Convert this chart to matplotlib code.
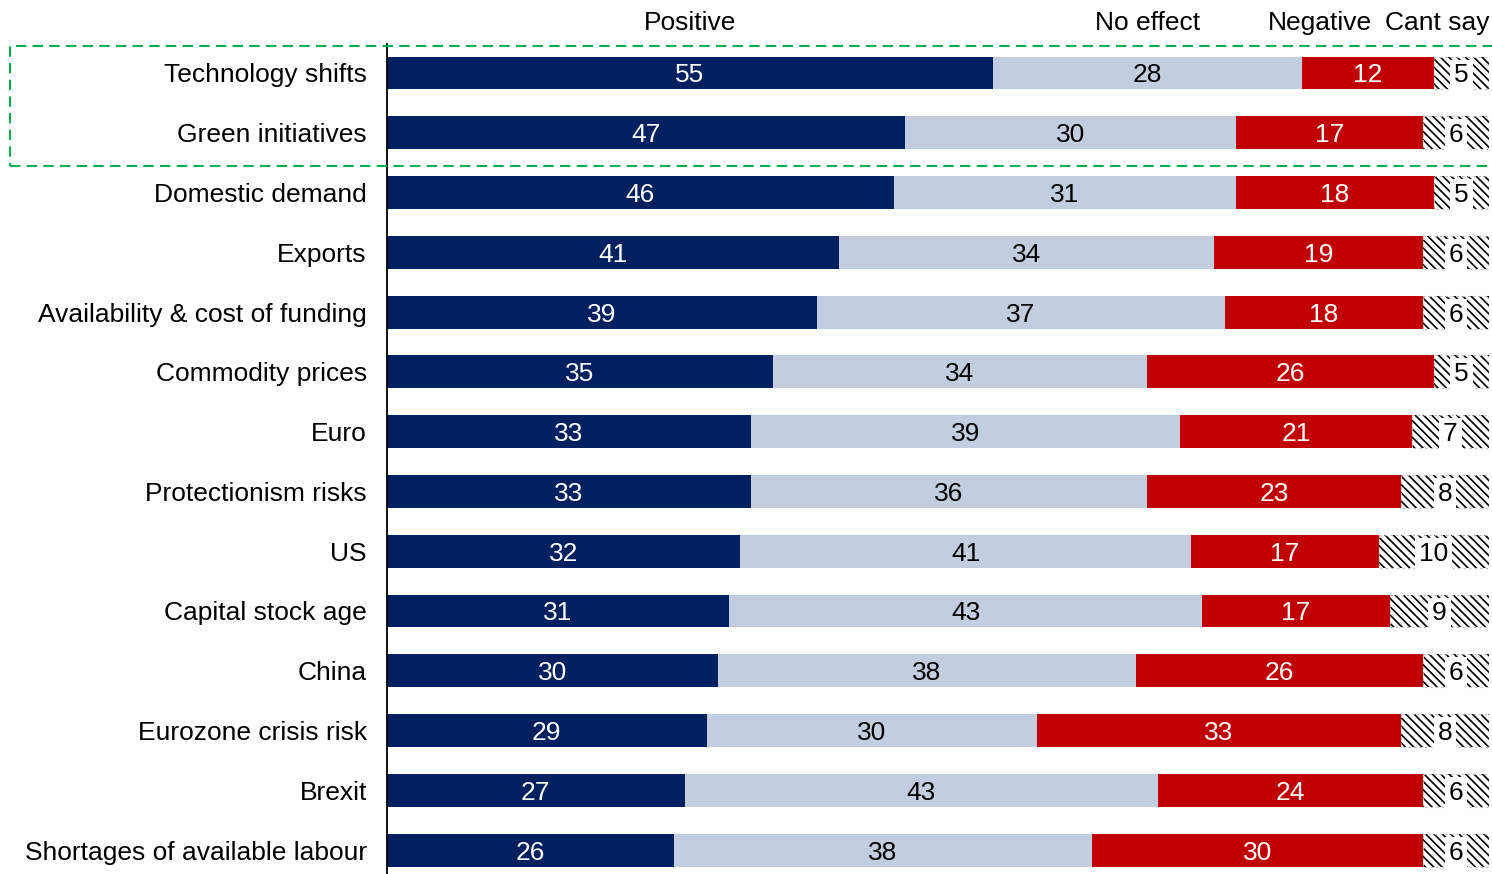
import matplotlib.pyplot as plt
from matplotlib.patches import Rectangle

plt.rcParams['font.family'] = ['Liberation Sans', 'DejaVu Sans']
plt.rcParams['hatch.linewidth'] = 1.2

categories = ['Technology shifts', 'Green initiatives', 'Domestic demand', 'Exports',
              'Availability & cost of funding', 'Commodity prices', 'Euro',
              'Protectionism risks', 'US', 'Capital stock age', 'China',
              'Eurozone crisis risk', 'Brexit', 'Shortages of available labour']
positive = [55, 47, 46, 41, 39, 35, 33, 33, 32, 31, 30, 29, 27, 26]
no_effect = [28, 30, 31, 34, 37, 34, 39, 36, 41, 43, 38, 30, 43, 38]
negative = [12, 17, 18, 19, 18, 26, 21, 23, 17, 17, 26, 33, 24, 30]
cant_say = [5, 6, 5, 6, 6, 5, 7, 8, 10, 9, 6, 8, 6, 6]
headers = ['Positive', 'No effect', 'Negative', 'Cant say']

fig = plt.figure(figsize=(14.92, 8.74), dpi=100)
ax = fig.add_axes([387 / 1492, 0, 1102 / 1492, 830 / 874])
y = list(range(len(categories)))
h = 0.55
fs = 19

left = [0] * len(y)
ax.barh(y, positive, left=left, height=h, color='#002060')
for i, v in enumerate(positive):
    ax.text(left[i] + v / 2, i, str(v), ha='center', va='center_baseline', color='white', fontsize=fs)
    left[i] += v
ax.barh(y, no_effect, left=left, height=h, color='#C3CDE0')
for i, v in enumerate(no_effect):
    ax.text(left[i] + v / 2, i, str(v), ha='center', va='center_baseline', color='black', fontsize=fs)
    left[i] += v
ax.barh(y, negative, left=left, height=h, color='#C00000')
for i, v in enumerate(negative):
    ax.text(left[i] + v / 2, i, str(v), ha='center', va='center_baseline', color='white', fontsize=fs)
    left[i] += v
ax.barh(y, cant_say, left=left, height=h, color='white', edgecolor='black',
        hatch='\\\\\\\\', linewidth=0)
ax.barh(y, cant_say, left=left, height=h, fill=False, edgecolor='#BBBBBB',
        linestyle=(0, (2, 3)), linewidth=0.8)
for i, v in enumerate(cant_say):
    ax.text(left[i] + v / 2, i, str(v), ha='center', va='center_baseline', color='black', fontsize=fs,
            bbox=dict(boxstyle='square,pad=0.15', fc='white', ec='none'))

# column headers above the first row
for x, t in zip([27.5, 69, 84.7, 95.3], headers):
    ax.text(x, -0.87, t, ha='center', va='center_baseline', fontsize=fs, clip_on=False)

ax.set_xlim(0, 100)
ax.set_ylim(13.4, -0.485)
ax.set_yticks(y)
ax.set_yticklabels(categories, fontsize=fs, va='center_baseline')
ax.tick_params(axis='y', length=0, pad=14.5)
ax.set_xticks([])
for s in ['top', 'right', 'bottom']:
    ax.spines[s].set_visible(False)
ax.spines['left'].set_linewidth(1.3)

# dashed highlight around the first two rows
fig.patches.append(Rectangle((10 / 1492, 1 - 166 / 874), 1.1, 120 / 874,
                             transform=fig.transFigure, fill=False,
                             edgecolor='#00B050', linestyle=(0, (5, 3)), linewidth=1.5))

fig.savefig('out.png', dpi=100)
